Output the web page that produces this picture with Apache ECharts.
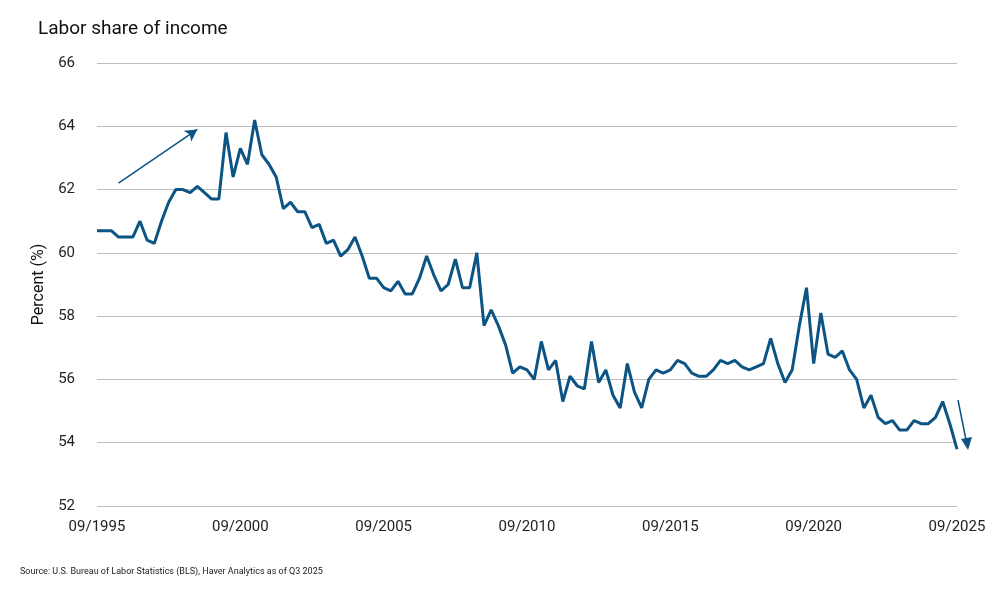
<!DOCTYPE html>
<html><head><meta charset="utf-8">
<script src="https://cdn.jsdelivr.net/npm/echarts@6/dist/echarts.min.js"></script>
<style>html,body{margin:0;padding:0;background:#fff}#c{width:1001px;height:596px}</style>
</head><body><div id="c"></div>
<script>
const laborShare = [60.7,60.7,60.7,60.5,60.5,60.5,61.0,60.4,60.3,61.0,
61.6,62.0,62.0,61.9,62.1,61.9,61.7,61.7,63.8,62.4,
63.3,62.8,64.2,63.1,62.8,62.4,61.4,61.6,61.3,61.3,
60.8,60.9,60.3,60.4,59.9,60.1,60.5,59.9,59.2,59.2,
58.9,58.8,59.1,58.7,58.7,59.2,59.9,59.3,58.8,59.0,
59.8,58.9,58.9,60.0,57.7,58.2,57.7,57.1,56.2,56.4,
56.3,56.0,57.2,56.3,56.6,55.3,56.1,55.8,55.7,57.2,
55.9,56.3,55.5,55.1,56.5,55.6,55.1,56.0,56.3,56.2,
56.3,56.6,56.5,56.2,56.1,56.1,56.3,56.6,56.5,56.6,
56.4,56.3,56.4,56.5,57.3,56.5,55.9,56.3,57.7,58.9,
56.5,58.1,56.8,56.7,56.9,56.3,56.0,55.1,55.5,54.8,
54.6,54.7,54.4,54.4,54.7,54.6,54.6,54.8,55.3,54.6,
53.8];
const tickLabels = ['09/1995','09/2000','09/2005','09/2010','09/2015','09/2020','09/2025'];
const quarterMonths = ['03','06','09','12'];
const categories = laborShare.map((v,i)=>{const q=i+2;return quarterMonths[q%4]+'/'+(1995+Math.floor(q/4));});
const ch = echarts.init(document.getElementById('c'));
const F = 'Roboto';
ch.setOption({
  animation:false,
  title:{text:'Labor share of income',left:33,top:15,textStyle:{fontFamily:F,fontSize:19,fontWeight:'normal',color:'#111'}},
  grid:{left:97,right:44,top:63,bottom:90},
  xAxis:{type:'category',data:categories,boundaryGap:false,
    axisLine:{show:false},axisTick:{show:false},
    axisLabel:{interval:(i)=>i%20===0,formatter:(v,i)=>tickLabels[i/20]||v,fontFamily:F,fontSize:15,color:'#222',margin:14}},
  yAxis:{type:'value',min:52,max:66,interval:2,name:'Percent (%)',nameLocation:'middle',nameGap:48,
    nameTextStyle:{fontFamily:F,fontSize:16,color:'#111'},
    axisLabel:{fontFamily:F,fontSize:15,color:'#222',margin:22},
    splitLine:{lineStyle:{color:'#bdbdbd',width:1}}},
  series:[{type:'line',data:laborShare,symbol:'none',lineStyle:{color:'#0b5484',width:3},
    markLine:{silent:true,symbol:['none','arrow'],symbolSize:[10,12],label:{show:false},
      lineStyle:{color:'#0b5484',width:1.5,type:'solid'},
      data:[[{coord:[3,62.2]},{coord:[14,63.9]}]]}}],
  graphic:[
    {type:'line',shape:{x1:958,y1:400,x2:966,y2:440},style:{stroke:'#0b5484',lineWidth:1.5}},
    {type:'polygon',shape:{points:[[961,439],[972,437],[968,450]]},style:{fill:'#0b5484'}},
    {type:'text',left:20,top:567,style:{text:'Source: U.S. Bureau of Labor Statistics (BLS), Haver Analytics as of Q3 2025',font:'9px Roboto',fill:'#222'}}
  ]
});
</script></body></html>
